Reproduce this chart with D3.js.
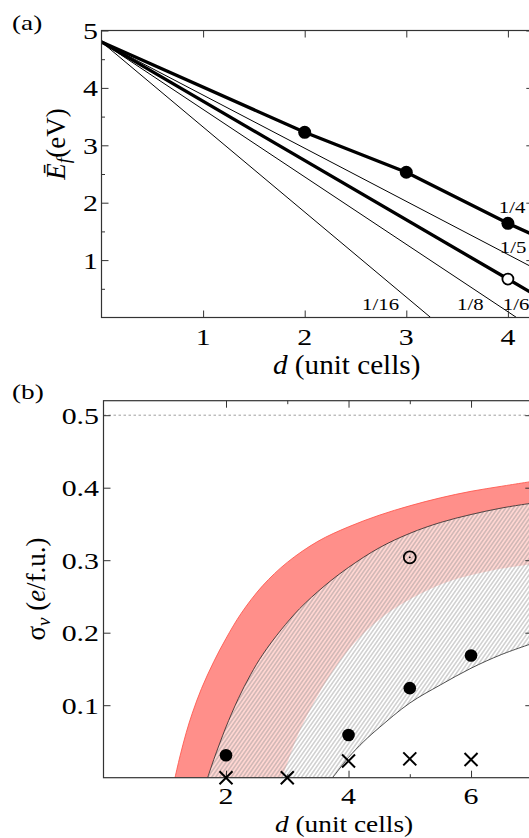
<!DOCTYPE html>
<html><head><meta charset="utf-8">
<script src="https://cdn.jsdelivr.net/npm/d3@7"></script>
<style>html,body{margin:0;padding:0;background:#fff;}svg{display:block;}</style>
</head><body>
<svg id="chart" width="529" height="838"></svg>
<script>
// ---------- Panel (a) data ----------
const aXTicks = [1, 2, 3, 4];
const aYTicks = [1, 2, 3, 4, 5];
const aYMinor = [0.5, 1.5, 2.5, 3.5, 4.5];
const lineNames = ["1/4", "1/5", "1/6", "1/8", "1/16"];
const lineThick = [true, false, true, false, false];
const line14 = [[0, 4.80], [2, 3.226], [3, 2.53], [4, 1.641], [4.3, 1.40]];
const line15 = [[0, 4.80], [4.3, 0.82]];
const line16 = [[0, 4.80], [4, 0.67], [4.3, 0.36]];
const line18 = [[0, 4.80], [4.085, 0]];
const line116 = [[0, 4.80], [3.24, 0]];
const aFilledD = [2, 3, 4];
const aFilledE = [3.226, 2.53, 1.641];
const aOpenD = [4];
const aOpenE = [0.67];
const labelD = [3.91, 3.92, 3.95, 3.50, 2.565];
const labelE = [1.82, 1.12, 0.13, 0.13, 0.13];

// ---------- Panel (b) data ----------
const bXMajor = [2, 4, 6];
const bXMinor = [3, 5, 7];
const bYTicks = [0.1, 0.2, 0.3, 0.4, 0.5];
const outerRed = [[1.167,0],[1.25,0.03],[1.35,0.062],[1.45,0.089],[1.6,0.123],[1.8,0.16],[2.0,0.192],[2.25,0.227],[2.6,0.265],[3.0,0.297],[3.5,0.326],[4.0,0.346],[4.5,0.362],[5.0,0.375],[5.5,0.386],[6.0,0.395],[6.5,0.402],[7.1,0.41]];
const innerLine = [[1.70,0],[1.8,0.025],[1.9,0.048],[2.0,0.07],[2.2,0.109],[2.4,0.142],[2.6,0.17],[2.9,0.204],[3.2,0.233],[3.6,0.264],[4.0,0.29],[4.5,0.317],[5.0,0.337],[5.5,0.352],[6.0,0.363],[6.5,0.372],[7.1,0.38]];
const pinkLower = [[2.92,0],[3.0,0.02],[3.1,0.043],[3.2,0.064],[3.35,0.09],[3.55,0.121],[3.8,0.154],[4.1,0.186],[4.4,0.211],[4.8,0.236],[5.3,0.259],[5.8,0.275],[6.4,0.287],[7.1,0.296]];
const lowerLine = [[3.74,0],[3.85,0.012],[4.0,0.028],[4.25,0.05],[4.5,0.069],[5.0,0.103],[5.5,0.128],[6.0,0.151],[6.5,0.17],[7.1,0.188]];
const bFilledD = [2, 4, 5, 6];
const bFilledV = [0.031, 0.059, 0.1235, 0.1685];
const bOpenD = [5];
const bOpenV = [0.304];
const bCrossD = [2, 3, 4, 5, 6];
const bCrossV = [0, 0, 0.023, 0.026, 0.025];

// ---------- setup ----------
const FONT = "'Liberation Serif','Times New Roman',serif";
const svg = d3.select("#chart");
const defs = svg.append("defs");
const AX = {l: 101.5, r: 533.3, t: 30.5, b: 317.5};
const BX = {l: 103.5, r: 532.3, t: 400.7, b: 777.7};
const xA = d3.scaleLinear().domain([0, 4.25]).range([AX.l, AX.r]);
const yA = d3.scaleLinear().domain([0, 5]).range([AX.b, AX.t]);
const xB = d3.scaleLinear().domain([0, 7]).range([BX.l, BX.r]);
const yB = d3.scaleLinear().domain([0, 0.52]).range([BX.b, BX.t]);

defs.append("clipPath").attr("id", "clipA").append("rect")
  .attr("x", AX.l).attr("y", AX.t).attr("width", AX.r - AX.l).attr("height", AX.b - AX.t);
defs.append("clipPath").attr("id", "clipB").append("rect")
  .attr("x", BX.l).attr("y", BX.t).attr("width", BX.r - BX.l).attr("height", BX.b - BX.t);
const pat = defs.append("pattern").attr("id", "hatch").attr("patternUnits", "userSpaceOnUse")
  .attr("width", 3.2).attr("height", 10).attr("patternTransform", "rotate(35)");
pat.append("line").attr("x1", 1.6).attr("x2", 1.6).attr("y1", 0).attr("y2", 10)
  .attr("stroke", "#8c8c8c").attr("stroke-width", 0.7);

function text(g, x, y, str, size, anchor, sx) {
  return g.append("text").attr("transform", `translate(${x},${y}) scale(${sx},1)`)
    .attr("text-anchor", anchor).attr("font-family", FONT).attr("font-size", size)
    .attr("fill", "#000").text(str);
}

function axes(P, xs, ys, xMaj, xMin, yMaj, yMin) {
  const g = svg.append("g").attr("class", "axes");
  const style = sel => { sel.select(".domain").remove(); sel.selectAll("line").attr("stroke", "#333").attr("stroke-width", 1); };
  const mk = (axisFn, sc, vals, size, tr) => {
    if (!vals || !vals.length) return;
    g.append("g").attr("transform", tr).call(axisFn(sc).tickValues(vals).tickSize(-size).tickFormat("")).call(style);
  };
  mk(d3.axisBottom, xs, xMaj, 7, `translate(0,${P.b})`);
  mk(d3.axisTop, xs, xMaj, 7, `translate(0,${P.t})`);
  mk(d3.axisBottom, xs, xMin, 3.5, `translate(0,${P.b})`);
  mk(d3.axisTop, xs, xMin, 3.5, `translate(0,${P.t})`);
  mk(d3.axisLeft, ys, yMaj, 7, `translate(${P.l},0)`);
  mk(d3.axisRight, ys, yMaj, 7, `translate(${P.r},0)`);
  mk(d3.axisLeft, ys, yMin, 3.5, `translate(${P.l},0)`);
  mk(d3.axisRight, ys, yMin, 3.5, `translate(${P.r},0)`);
  g.append("rect").attr("x", P.l).attr("y", P.t).attr("width", P.r - P.l).attr("height", P.b - P.t)
    .attr("fill", "none").attr("stroke", "#333").attr("stroke-width", 1.2);
  return g;
}

// ---------- Panel (a) ----------
const gA = svg.append("g").attr("clip-path", "url(#clipA)");
const lineA = d3.line().x(d => xA(d[0])).y(d => yA(d[1]));
const allLines = [line14, line15, line16, line18, line116];
allLines.forEach((pts, i) => {
  gA.append("path").attr("d", lineA(pts)).attr("fill", "none").attr("stroke", "#000")
    .attr("stroke-width", lineThick[i] ? 3.3 : 1).attr("stroke-linejoin", "round");
});
aFilledD.forEach((d, i) => gA.append("circle").attr("cx", xA(d)).attr("cy", yA(aFilledE[i])).attr("r", 6.5).attr("fill", "#000"));
aOpenD.forEach((d, i) => gA.append("circle").attr("cx", xA(d)).attr("cy", yA(aOpenE[i])).attr("r", 5.5)
  .attr("fill", "#fff").attr("stroke", "#000").attr("stroke-width", 1.8));
lineNames.forEach((n, i) => text(svg, xA(labelD[i]), yA(labelE[i]), n, 16, "start", 1.3));
axes(AX, xA, yA, aXTicks, [], aYTicks, aYMinor);
aXTicks.forEach(v => text(svg, xA(v), 345, String(v), 23, "middle", 1.3));
aYTicks.forEach(v => text(svg, 98, yA(v) + 8.5, String(v), 23, "end", 1.3));
text(svg, 12, 30, "(a)", 21, "start", 1.3);
const tA = svg.append("text").attr("transform", "translate(273,374) scale(1.08,1)")
  .attr("font-family", FONT).attr("font-size", 27).attr("fill", "#000");
tA.append("tspan").attr("font-style", "italic").text("d");
tA.append("tspan").text(" (unit cells)");
const yTA = svg.append("text").attr("transform", "translate(65,144) rotate(-90)")
  .attr("text-anchor", "middle").attr("font-family", FONT).attr("font-size", 27).attr("fill", "#000");
yTA.append("tspan").attr("font-style", "italic").text("Ē");
yTA.append("tspan").attr("font-style", "italic").attr("font-size", 19).attr("dy", 5).text("f");
yTA.append("tspan").attr("dy", -5).text("(eV)");

// ---------- Panel (b) ----------
const gB = svg.append("g").attr("clip-path", "url(#clipB)");
const cv = d3.line().x(d => xB(d[0])).y(d => yB(d[1])).curve(d3.curveCatmullRom.alpha(0.5));
const band = (top, bot) => cv(top) + cv(bot.slice().reverse()).replace(/^M/, "L") + "Z";
gB.append("line").attr("x1", BX.l).attr("x2", BX.r).attr("y1", yB(0.5)).attr("y2", yB(0.5))
  .attr("stroke", "#888").attr("stroke-width", 0.8).attr("stroke-dasharray", "2.5,2.5");
gB.append("path").attr("d", band(innerLine, pinkLower)).attr("fill", "#ffd6d2");
gB.append("path").attr("d", band(innerLine, lowerLine)).attr("fill", "url(#hatch)");
gB.append("path").attr("d", band(outerRed, innerLine)).attr("fill", "#ff8f8a");
gB.append("path").attr("d", cv(outerRed)).attr("fill", "none").attr("stroke", "#ff5a50").attr("stroke-width", 0.9);
gB.append("path").attr("d", cv(innerLine)).attr("fill", "none").attr("stroke", "#222").attr("stroke-width", 0.8);
gB.append("path").attr("d", cv(lowerLine)).attr("fill", "none").attr("stroke", "#222").attr("stroke-width", 0.8);
axes(BX, xB, yB, bXMajor, bXMinor, bYTicks, []);
const gM = svg.append("g");
bFilledD.forEach((d, i) => gM.append("circle").attr("cx", xB(d)).attr("cy", yB(bFilledV[i])).attr("r", 6.3).attr("fill", "#000"));
bOpenD.forEach((d, i) => {
  gM.append("circle").attr("cx", xB(d)).attr("cy", yB(bOpenV[i])).attr("r", 6).attr("fill", "none")
    .attr("stroke", "#000").attr("stroke-width", 1.8);
  gM.append("circle").attr("cx", xB(d)).attr("cy", yB(bOpenV[i])).attr("r", 0.9).attr("fill", "#000");
});
bCrossD.forEach((d, i) => {
  const cx = xB(d), cy = yB(bCrossV[i]), s = 6.5;
  gM.append("path").attr("d", `M${cx - s},${cy - s}L${cx + s},${cy + s}M${cx - s},${cy + s}L${cx + s},${cy - s}`)
    .attr("stroke", "#000").attr("stroke-width", 2);
});
bXMajor.forEach(v => text(svg, xB(v), 804, String(v), 23, "middle", 1.3));
bYTicks.forEach(v => text(svg, 99, yB(v) + 8.5, v.toFixed(1), 23, "end", 1.3));
text(svg, 12, 398.5, "(b)", 21, "start", 1.3);
const tB = svg.append("text").attr("transform", "translate(275,832) scale(1.14,1)")
  .attr("font-family", FONT).attr("font-size", 24).attr("fill", "#000");
tB.append("tspan").attr("font-style", "italic").text("d");
tB.append("tspan").text(" (unit cells)");
const yTB = svg.append("text").attr("transform", "translate(45,589) rotate(-90)")
  .attr("text-anchor", "middle").attr("font-family", FONT).attr("font-size", 27).attr("fill", "#000");
yTB.append("tspan").text("σ");
yTB.append("tspan").attr("font-style", "italic").attr("font-size", 19).attr("dy", 5).text("v");
yTB.append("tspan").attr("dy", -5).text(" (");
yTB.append("tspan").attr("font-style", "italic").text("e");
yTB.append("tspan").text("/f.u.)");
</script>
</body></html>
